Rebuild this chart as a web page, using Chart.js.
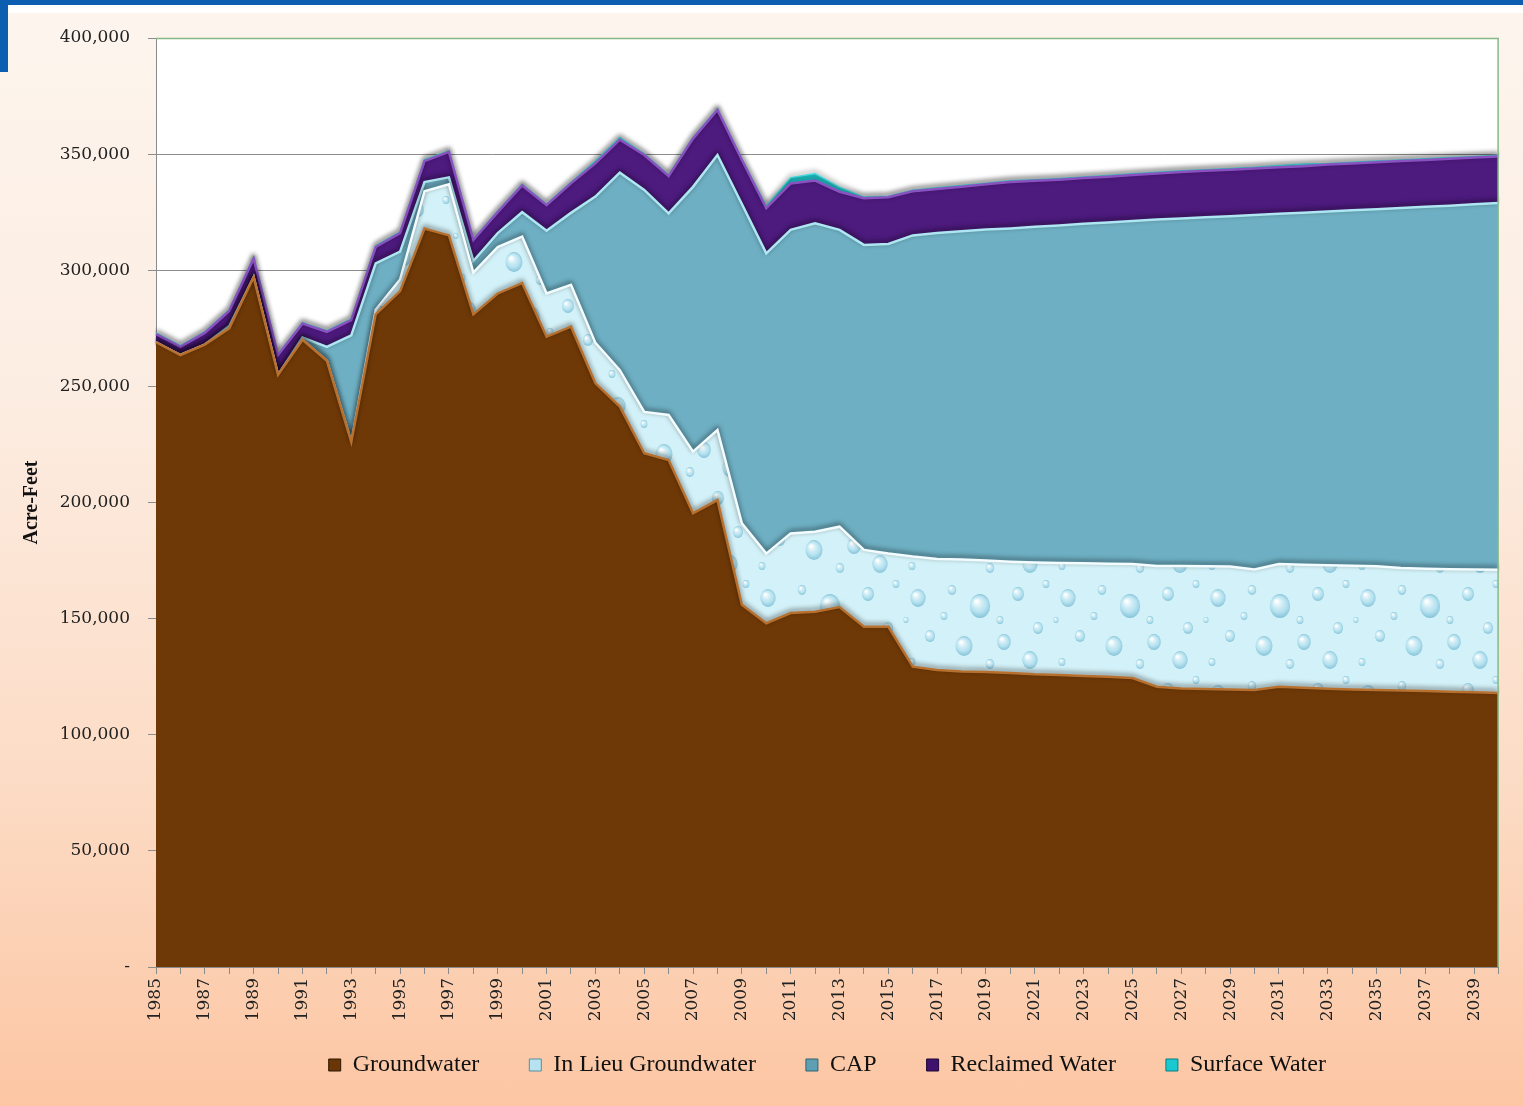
<!DOCTYPE html>
<html>
<head>
<meta charset="utf-8">
<title>Water Supply by Source, 1985-2040</title>
<script src="https://cdn.jsdelivr.net/npm/chart.js@4.4.1/dist/chart.umd.min.js"></script>
<style>
  html, body { margin: 0; padding: 0; }
  body {
    width: 1523px; height: 1106px; overflow: hidden; position: relative;
    background: linear-gradient(to bottom, #fdf5ee 0%, #fcede2 35%, #fcdcc6 70%, #fcc6a3 100%);
  }
  #topBand { position: absolute; left: 0; top: 0; width: 1523px; height: 5px; background: #0b5eb0; }
  #topGap { position: absolute; left: 8px; top: 5px; width: 1515px; height: 8px; background: #ffffff; }
  #leftBand { position: absolute; left: 0; top: 0; width: 8px; height: 72px; background: #0b5eb0; }
  #chart { position: absolute; left: 0; top: 0; }
</style>
</head>
<body>
<div id="topBand"></div>
<div id="topGap"></div>
<div id="leftBand"></div>
<canvas id="chart" width="1523" height="1106"></canvas>
<script>
// Years on the horizontal axis
const years = ['1985','1986','1987','1988','1989','1990','1991','1992','1993','1994',
  '1995','1996','1997','1998','1999','2000','2001','2002','2003','2004',
  '2005','2006','2007','2008','2009','2010','2011','2012','2013','2014',
  '2015','2016','2017','2018','2019','2020','2021','2022','2023','2024',
  '2025','2026','2027','2028','2029','2030','2031','2032','2033','2034',
  '2035','2036','2037','2038','2039','2040'];

// Supply by source, acre-feet per year (stacked bottom to top)
const groundwater = [269000,263500,268000,275000,297000,255000,270000,261000,226000,281000,
  291000,318000,315000,281000,290000,294500,271400,275700,251300,241300,
  221200,218300,195400,201000,156000,148000,152400,153000,155000,146500,
  146500,129300,127900,127200,127000,126600,126000,125700,125300,125000,
  124400,120700,119900,119700,119500,119300,120700,120200,119800,119500,
  119300,119000,118800,118500,118300,118000];

const inLieuGroundwater = [0,0,0,0,0,0,0,0,0,2000,
  5000,16000,22000,18000,20000,20000,18600,18000,17400,15700,
  17800,19400,26500,30200,35000,30000,34300,34400,34600,33100,
  31500,47400,47800,48300,48000,47900,48200,48300,48500,48600,
  49100,52000,52800,52900,52900,51900,52800,53000,53200,53300,
  53300,52800,52700,52800,52800,53000];

const cap = [0,0,0,1000,0,0,1000,6000,46000,20000,
  12000,4000,3000,5000,6000,10500,27000,31000,63000,85000,
  95600,86800,114000,118400,137500,129300,130700,132800,127800,131300,
  133300,138300,140300,141300,142500,143500,144500,145300,146200,147000,
  147700,149100,149600,150200,150900,152600,150800,151600,152300,153000,
  153700,155000,155800,156500,157300,158000];

const reclaimedWater = [3500,3500,5000,6500,8000,8500,6000,6500,6500,7000,
  8000,9000,11000,9000,9000,11500,11000,12700,14300,14200,
  15000,16000,20800,19400,19000,19400,20000,18400,16400,20100,
  20100,19000,19000,19200,19500,20000,19800,19700,19700,19700,
  19800,19900,20000,20000,20000,20000,20000,20000,20200,20200,
  20200,20200,20200,20200,20100,20000];

const surfaceWater = [500,500,500,500,500,500,500,500,500,500,
  500,500,500,500,500,500,500,500,1000,1000,
  500,500,500,500,500,1000,2500,3000,2000,500,
  500,500,500,500,500,500,500,500,500,500,
  500,500,500,500,500,500,800,1000,500,500,
  500,500,500,500,500,500];

// Y axis tick values
const yTicks = [0, 50000, 100000, 150000, 200000, 250000, 300000, 350000, 400000];

// Droplet texture for the in-lieu band
function bubblePattern() {
  const c = document.createElement('canvas');
  c.width = 150; c.height = 96;
  const g = c.getContext('2d');
  g.fillStyle = '#d3f1f8';
  g.fillRect(0, 0, c.width, c.height);
  const drops = [[18,22,9],[52,14,5],[80,30,12],[118,18,7],[138,52,6],[30,60,6],[64,70,10],
                 [104,66,8],[12,86,4],[90,88,5],[130,84,9],[44,40,4],[100,44,4],[146,8,4],[6,44,3]];
  drops.forEach(([x, y, r]) => {
    const rg = g.createRadialGradient(x - r * 0.3, y - r * 0.4, r * 0.1, x, y, r);
    rg.addColorStop(0, 'rgba(255,255,255,0.95)');
    rg.addColorStop(0.6, 'rgba(170,220,236,0.65)');
    rg.addColorStop(1, 'rgba(105,178,206,0.75)');
    g.fillStyle = rg;
    g.beginPath(); g.ellipse(x, y, r * 0.85, r, 0, 0, Math.PI * 2); g.fill();
  });
  return g.createPattern(c, 'repeat');
}

// Embossed edges: a soft dark line cast onto the band above each boundary
const edgeShadow = {
  id: 'edgeShadow',
  beforeDatasetDraw(chart) {
    const ctx = chart.ctx;
    ctx.save();
    ctx.shadowColor = 'rgba(0,0,0,0.6)';
    ctx.shadowBlur = 5;
    ctx.shadowOffsetX = 0;
    ctx.shadowOffsetY = -2;
  },
  afterDatasetDraw(chart) {
    chart.ctx.restore();
  }
};

// White plot background and green frame on the top and right
const plotFrame = {
  id: 'plotFrame',
  beforeDraw(chart) {
    const { ctx, chartArea: a } = chart;
    ctx.save();
    ctx.fillStyle = '#ffffff';
    ctx.fillRect(a.left, a.top, a.right - a.left, a.bottom - a.top);
    ctx.restore();
  },
  afterDatasetsDraw(chart) {
    const { ctx, chartArea: a } = chart;
    ctx.save();
    ctx.strokeStyle = '#86b986';
    ctx.lineWidth = 1.5;
    ctx.beginPath();
    ctx.moveTo(a.left, a.top + 0.5);
    ctx.lineTo(a.right - 0.5, a.top + 0.5);
    ctx.lineTo(a.right - 0.5, a.bottom);
    ctx.stroke();
    ctx.restore();
  }
};

const swatches = ['#6a3606', '#b6e3ef', '#5f9fb3', '#3f136b', '#18c9cf'];
const swatchEdges = ['#2e1602', '#5a8ea0', '#2f6577', '#1d0636', '#087f84'];

const baseLabels = Chart.defaults.plugins.legend.labels.generateLabels;

new Chart(document.getElementById('chart'), {
  type: 'line',
  data: {
    labels: years,
    datasets: [
      { label: 'Groundwater', data: groundwater, fill: 'origin',
        backgroundColor: '#6f3907', borderColor: '#b8702f', borderWidth: 2.5 },
      { label: 'In Lieu Groundwater', data: inLieuGroundwater, fill: '-1',
        backgroundColor: bubblePattern(), borderColor: '#f3fcff', borderWidth: 2.5 },
      { label: 'CAP', data: cap, fill: '-1',
        backgroundColor: '#6eafc3', borderColor: '#aee6f1', borderWidth: 2.5 },
      { label: 'Reclaimed Water', data: reclaimedWater, fill: '-1',
        backgroundColor: '#4d1a7e', borderColor: '#8a52c0', borderWidth: 2.5 },
      { label: 'Surface Water', data: surfaceWater, fill: '-1',
        backgroundColor: '#20d2d8', borderColor: '#52e6ea', borderWidth: 1.5 }
    ]
  },
  options: {
    responsive: false,
    animation: false,
    devicePixelRatio: 1,
    layout: { padding: { top: 38, right: 22, left: 0, bottom: 19 } },
    elements: {
      line: { tension: 0 },
      point: { radius: 0, hoverRadius: 0 }
    },
    scales: {
      x: {
        type: 'category',
        offset: false,
        grid: { drawOnChartArea: false, drawTicks: true, tickLength: 7, color: '#8a8a8a' },
        border: { color: '#8a8a8a', width: 1 },
        ticks: {
          autoSkip: false,
          maxRotation: 90, minRotation: 90,
          padding: 4,
          color: '#222222',
          font: { family: 'DejaVu Serif', size: 17 },
          callback: function (value, index) { return index % 2 === 0 ? years[index] : ''; }
        },
        afterFit(scale) {
          // keep the axis box short so the legend sits close; the rotated labels overhang it
          scale.height = 36;
          scale._computeLabelArea = function () { return undefined; };
        }
      },
      y: {
        stacked: true,
        min: 0, max: 400000,
        afterBuildTicks(scale) { scale.ticks = yTicks.map(v => ({ value: v })); },
        grid: { color: '#8c8c8c', lineWidth: 1, tickLength: 8, drawTicks: true },
        border: { color: '#8a8a8a', width: 1 },
        ticks: {
          padding: 18,
          color: '#222222',
          font: { family: 'DejaVu Serif', size: 17 },
          callback: function (v) { return v === 0 ? '-' : v.toLocaleString('en-US'); }
        },
        title: {
          display: true,
          text: 'Acre-Feet',
          color: '#111111',
          font: { family: 'Liberation Serif', size: 20, weight: 'bold' },
          padding: { top: 20, bottom: 0 }
        },
        afterFit(scale) { scale.width = 156; }
      }
    },
    plugins: {
      legend: {
        position: 'bottom',
        fullSize: false,
        labels: {
          boxWidth: 12, boxHeight: 12, padding: 50,
          color: '#111111',
          font: { family: 'Liberation Serif', size: 24 },
          generateLabels(chart) {
            return baseLabels(chart).map((item, i) => Object.assign(item, {
              fillStyle: swatches[i], strokeStyle: swatchEdges[i], lineWidth: 1
            }));
          }
        }
      },
      tooltip: { enabled: false },
      filler: { propagate: false }
    }
  },
  plugins: [plotFrame, edgeShadow]
});
</script>
</body>
</html>
